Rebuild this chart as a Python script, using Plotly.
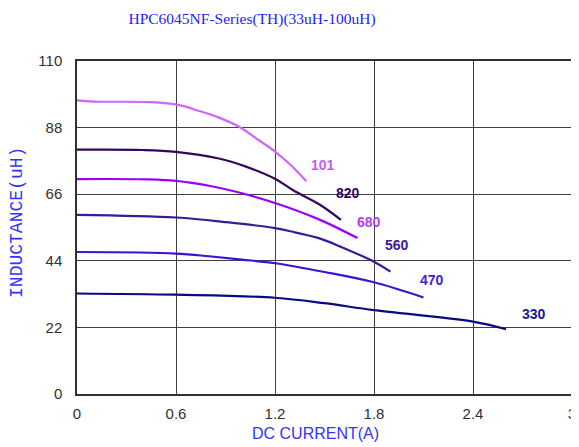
import plotly.graph_objects as go

# ---- data ----
x_101 = [0, 0.1, 0.45, 0.62, 0.74, 0.86, 0.985, 1.1, 1.2, 1.29, 1.39]
y_101 = [97, 96.6, 96.4, 95.4, 93.5, 91.3, 88.2, 83.9, 80.1, 75.9, 70.3]

x_820 = [0, 0.4, 0.6, 0.86, 1.02, 1.2, 1.31, 1.47, 1.6]
y_820 = [80.7, 80.6, 80, 77.8, 75.2, 71.1, 67.3, 62.6, 57.5]

x_680 = [0, 0.44, 0.6, 0.8, 0.965, 1.2, 1.47, 1.7]
y_680 = [71, 70.9, 70.4, 68.8, 66.8, 63.1, 57.6, 51.5]

x_560 = [0, 0.6, 0.9, 1.2, 1.32, 1.47, 1.6, 1.8, 1.9]
y_560 = [59.2, 58.3, 56.8, 54.8, 53.4, 51.4, 48.6, 43.7, 40.4]

x_470 = [0, 0.6, 0.8, 1.0, 1.2, 1.5, 1.8, 2.1]
y_470 = [46.9, 46.4, 45.5, 44.4, 43.2, 40.3, 36.9, 31.9]

x_330 = [0, 0.6, 1.2, 1.5, 1.8, 2.4, 2.6]
y_330 = [33.2, 32.8, 31.8, 30.0, 27.7, 23.9, 21.4]

series_names = ["101", "820", "680", "560", "470", "330"]
label_x = [1.49, 1.64, 1.77, 1.94, 2.15, 2.77]
label_y = [75.6, 66.3, 56.8, 49.2, 37.6, 26.4]

x_ticks = [0, 0.6, 1.2, 1.8, 2.4, 3]
x_tick_text = ["0", "0.6", "1.2", "1.8", "2.4", "3"]
y_ticks = [0, 22, 44, 66, 88, 110]
y_tick_text = ["0", "22", "44", "66", "88", "110"]

title_text = "HPC6045NF-Series(TH)(33uH-100uH)"
x_title = "DC CURRENT(A)"
y_title = "INDUCTANCE(uH)"

# ---- styling ----
line_colors = ["#CC66FF", "#33065F", "#9900FF", "#3A1A96", "#3F10D8", "#0A0A80"]
label_colors = ["#C060F0", "#33065F", "#B040F0", "#3A1A96", "#4A20D0", "#1A1A90"]

xs = [x_101, x_820, x_680, x_560, x_470, x_330]
ys = [y_101, y_820, y_680, y_560, y_470, y_330]

fig = go.Figure()
for name, xv, yv, c in zip(series_names, xs, ys, line_colors):
    fig.add_trace(go.Scatter(x=xv, y=yv, mode="lines", name=name,
                             line=dict(color=c, width=2.2, shape="spline", smoothing=1.0),
                             showlegend=False, hoverinfo="skip"))

for name, lx, ly, c in zip(series_names, label_x, label_y, label_colors):
    fig.add_annotation(x=lx, y=ly, text="<b>%s</b>" % name, showarrow=False,
                       font=dict(family="Liberation Sans, Arial", size=14, color=c),
                       xref="x", yref="y", xanchor="center", yanchor="middle")

fig.add_annotation(xref="paper", yref="paper", x=0.482, y=-0.12, text=x_title,
                   xanchor="center", yanchor="middle",
                   showarrow=False, font=dict(family="Liberation Sans, Arial", size=16, color="#3333FF"))
fig.add_annotation(xref="paper", yref="paper", x=-0.121, y=0.514, text=y_title, textangle=-90,
                   xanchor="center", yanchor="middle",
                   showarrow=False, font=dict(family="Liberation Mono, Courier New", size=18, color="#3333FF"))

axis_common = dict(showgrid=True, gridcolor="#404040", gridwidth=1.3,
                   showline=True, linecolor="#303030", linewidth=1.5, mirror=True,
                   zeroline=False, ticks="", automargin=False, ticklabeloverflow="allow",
                   tickfont=dict(family="Liberation Sans, Arial", size=15, color="#303030"))

fig.update_xaxes(range=[0, 3], tickvals=x_ticks, ticktext=x_tick_text, ticklabelstandoff=5, **axis_common)
fig.update_yaxes(range=[0, 110], tickvals=y_ticks, ticktext=y_tick_text, ticklabelstandoff=10, **axis_common)

fig.update_layout(
    width=571, height=439,
    margin=dict(l=69, r=7, t=53, b=53, autoexpand=False),
    paper_bgcolor="white", plot_bgcolor="white",
    title=dict(text=title_text, x=244 / 571, xanchor="center", xref="container",
               y=1 - 11 / 439, yanchor="middle", yref="container",
               font=dict(family="Liberation Serif, Times New Roman", size=15.5, color="#2222FF")),
)

fig.write_html("out.html")
